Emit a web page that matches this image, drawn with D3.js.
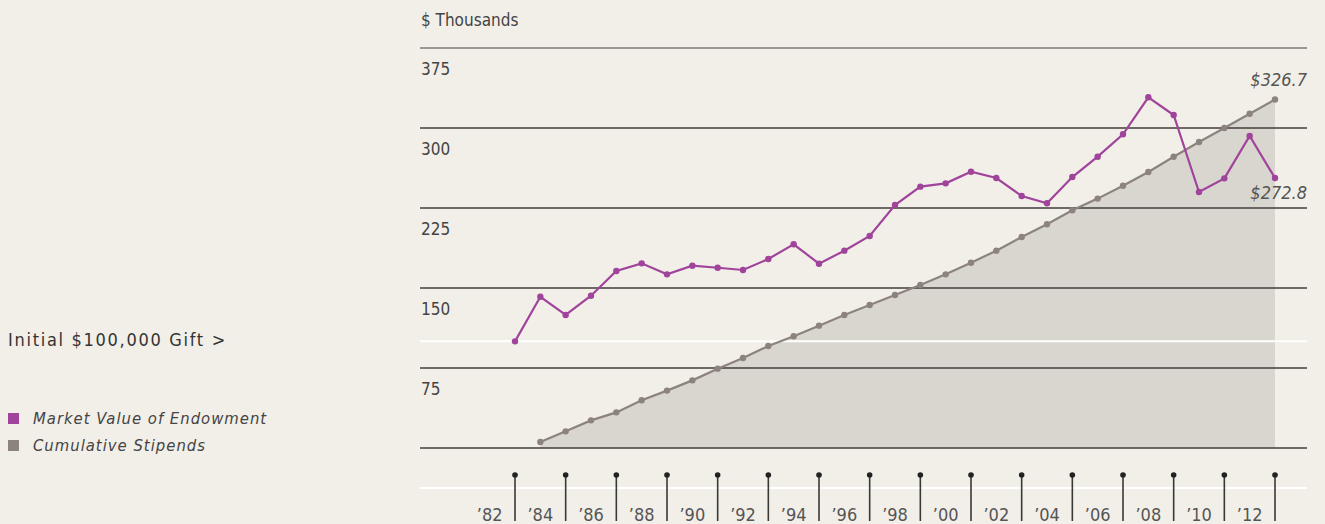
<!DOCTYPE html>
<html>
<head>
<meta charset="utf-8">
<script src="https://cdn.jsdelivr.net/npm/d3@7"></script>
<style>
  html, body { margin: 0; padding: 0; background: #f2efe9; }
  svg { display: block; font-family: "Liberation Sans Narrow", "DejaVu Sans Condensed", "Roboto", sans-serif; }
</style>
</head>
<body>
<svg id="chart" width="1325" height="524"></svg>
<script>
// Years and values ($ thousands)
const marketYears = d3.range(1983, 2014);
const marketValues = [100, 141.8, 124.7, 142.8, 166, 173.1, 162.8, 170.9, 169, 166.9,
  177.2, 191, 172.8, 185, 198.75, 227.8, 245, 248.1, 259, 253.1,
  236.25, 229.4, 254, 273.1, 294.1, 328.8, 312.2, 240, 252.8, 292.5, 253.1];

const stipendYears = d3.range(1984, 2014);
const stipendValues = [5.6, 15.6, 25.9, 33.4, 44.7, 53.8, 63.4, 74.4, 84.4, 95.6,
  104.7, 114.7, 124.7, 134, 143.4, 152.8, 162.8, 173.7, 185, 197.8,
  209.7, 222.8, 233.8, 245.9, 258.75, 273.1, 286.9, 300, 313.4, 326.7];

const yTicks = [0, 75, 150, 225, 300, 375];
const tickYears = d3.range(1983, 2014, 2);   // marker posts
const labelYears = d3.range(1982, 2013, 2);  // year labels between posts
const initialGift = 100;

const legendItems = [
  { label: 'Market Value of Endowment', color: '#a0449b' },
  { label: 'Cumulative Stipends', color: '#8d837e' }
];

const svg = d3.select('#chart');

const x = d3.scaleLinear().domain([1983, 2013]).range([515, 1275]);
const y = d3.scaleLinear().domain([0, 375]).range([448, 48]);
const left = 420, right = 1307;

// area under the stipend line
const stipends = stipendYears.map((yr, i) => ({ yr, v: stipendValues[i] }));
const market = marketYears.map((yr, i) => ({ yr, v: marketValues[i] }));

svg.append('path')
  .datum(stipends)
  .attr('fill', '#d9d6d0')
  .attr('d', d3.area().x(d => x(d.yr)).y0(y(0)).y1(d => y(d.v)));

// horizontal grid lines, label under each line
const grid = svg.append('g');
grid.selectAll('line')
  .data(yTicks)
  .enter().append('line')
  .attr('x1', left).attr('x2', right)
  .attr('y1', d => y(d)).attr('y2', d => y(d))
  .attr('stroke', d => d === 375 ? '#7d7a76' : '#3f3d3b')
  .attr('stroke-width', 1.6);

grid.selectAll('text')
  .data(yTicks.filter(d => d > 0))
  .enter().append('text')
  .attr('x', left + 1)
  .attr('y', d => y(d) + 27)
  .attr('font-size', 17)
  .attr('fill', '#444')
  .text(d => d);

svg.append('text')
  .attr('x', left + 1).attr('y', 26)
  .attr('font-size', 17)
  .attr('fill', '#444')
  .text('$ Thousands');

// white reference lines: initial gift and the axis band
svg.append('line')
  .attr('x1', left).attr('x2', right)
  .attr('y1', y(initialGift)).attr('y2', y(initialGift))
  .attr('stroke', '#fff').attr('stroke-width', 2);
svg.append('line')
  .attr('x1', left).attr('x2', right)
  .attr('y1', 488).attr('y2', 488)
  .attr('stroke', '#fff').attr('stroke-width', 2);

// series lines with dots
const line = d3.line().x(d => x(d.yr)).y(d => y(d.v));
[[stipends, legendItems[1].color], [market, legendItems[0].color]].forEach(([data, color]) => {
  svg.append('path')
    .datum(data)
    .attr('fill', 'none')
    .attr('stroke', color)
    .attr('stroke-width', 2.2)
    .attr('d', line);
  svg.append('g').selectAll('circle')
    .data(data)
    .enter().append('circle')
    .attr('cx', d => x(d.yr)).attr('cy', d => y(d.v))
    .attr('r', 3.2)
    .attr('fill', color);
});

// end value labels
svg.append('text')
  .attr('x', right).attr('y', 86)
  .attr('text-anchor', 'end')
  .attr('font-size', 18).attr('font-style', 'italic')
  .attr('fill', '#555')
  .text('$326.7');
svg.append('text')
  .attr('x', right).attr('y', 199)
  .attr('text-anchor', 'end')
  .attr('font-size', 18).attr('font-style', 'italic')
  .attr('fill', '#555')
  .text('$272.8');

// x axis: posts with dots, labels between them
const posts = svg.append('g');
posts.selectAll('line')
  .data(tickYears)
  .enter().append('line')
  .attr('x1', d => x(d)).attr('x2', d => x(d))
  .attr('y1', 475).attr('y2', 521)
  .attr('stroke', '#3a3836').attr('stroke-width', 1.6);
posts.selectAll('circle')
  .data(tickYears)
  .enter().append('circle')
  .attr('cx', d => x(d)).attr('cy', 475)
  .attr('r', 2.8)
  .attr('fill', '#222');

svg.append('g').selectAll('text')
  .data(labelYears)
  .enter().append('text')
  .attr('x', d => x(d))
  .attr('y', 521)
  .attr('text-anchor', 'middle')
  .attr('font-size', 18)
  .attr('fill', '#555')
  .text(d => '\u2019' + String(d).slice(2));

// left side notes and legend
svg.append('text')
  .attr('x', 8).attr('y', 346)
  .attr('font-size', 18)
  .attr('letter-spacing', 1.7)
  .attr('fill', '#333')
  .text('Initial $100,000 Gift >');

const legend = svg.append('g');
legend.selectAll('rect')
  .data(legendItems)
  .enter().append('rect')
  .attr('x', 8).attr('y', (d, i) => 413 + i * 27)
  .attr('width', 11).attr('height', 11)
  .attr('fill', d => d.color);
legend.selectAll('text')
  .data(legendItems)
  .enter().append('text')
  .attr('x', 33).attr('y', (d, i) => 424 + i * 27)
  .attr('font-size', 16.5)
  .attr('font-style', 'italic')
  .attr('letter-spacing', 1.0)
  .attr('fill', '#444')
  .text(d => d.label);
</script>
</body>
</html>
